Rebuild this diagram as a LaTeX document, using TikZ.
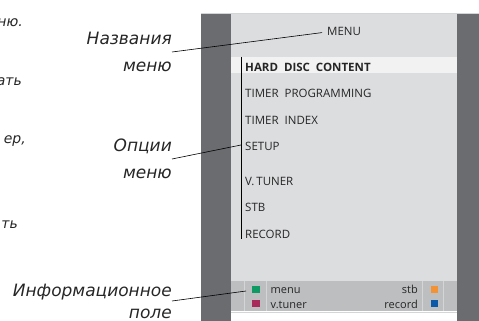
\documentclass[tikz,border=0pt]{standalone}
\usepackage{fontspec}
\setmainfont{Open Sans}
\newfontfamily\capfont{DejaVu Sans}
\usepackage{xcolor}
\definecolor{tvdark}{HTML}{6B6C70}
\definecolor{tvpanel}{HTML}{DCDDDF}
\definecolor{tvhigh}{HTML}{F2F2F2}
\definecolor{tvbar}{HTML}{BDBEC0}
\definecolor{tvsep}{HTML}{D4D5D7}
\definecolor{tvtext}{HTML}{262626}
\definecolor{keygreen}{HTML}{0E9A62}
\definecolor{keyred}{HTML}{A82A5A}
\definecolor{keyyellow}{HTML}{F39234}
\definecolor{keyblue}{HTML}{0B57A8}
\tikzstyle{caption}=[inner sep=0pt,anchor=east,align=right,font=\capfont\fontsize{17}{27}\selectfont\itshape,text=tvtext]
\tikzstyle{stub}=[inner sep=0pt,anchor=base east,font=\capfont\fontsize{14}{15}\selectfont\itshape,text=tvtext]
\tikzstyle{entry}=[inner sep=0pt,anchor=base west,font=\fontsize{11.5}{12}\selectfont,text=tvtext]
\tikzstyle{keytext}=[entry,font=\fontsize{11}{12}\selectfont]
\tikzstyle{key}=[minimum size=7.5pt,inner sep=0pt]
\tikzstyle{leader}=[draw=black,line width=0.6pt]

\begin{document}
\begin{tikzpicture}[x=1pt,y=-1pt]
\useasboundingbox (0,0) rectangle (479,321);
% tv screen
\fill[tvdark] (201,13) rectangle (231,321);
\fill[tvdark] (457,13) rectangle (479,321);
\fill[tvpanel] (231,13) rectangle (457,311);
\draw[tvsep,line width=0.8pt] (201,13.4) -- (479,13.4);
\draw[tvsep] (231,312.5) -- (457,312.5);
\fill[tvhigh] (231,57) rectangle (457,73);
% info bar
\fill[tvbar] (231,281) rectangle (457,311);
\foreach \xpos in {244,266,422,443}
  \draw[tvsep,line width=1pt] (\xpos,281) -- (\xpos,311);

% menu
\node[entry] (title) at (327,36) {MENU};
\node[entry,font=\bfseries\fontsize{11.5}{12}\selectfont] (hdc) at (245,71) {HARD\ \ DISC\ \ CONTENT};
\foreach \ypos/\name/\txt in {97/prog/{TIMER\ \ PROGRAMMING}, 124/index/{TIMER\ \ INDEX},
    150/setup/SETUP, 185/vtuner/{V.\,TUNER}, 211/stb/STB, 238/record/RECORD}
  \node[entry] (\name) at (245,\ypos) {\txt};
\coordinate (brtop) at (241,57);
\coordinate (brbot) at (241,239);
\coordinate (brmid) at (241,145);
\draw[leader] (brtop) -- (brbot);

% colour keys
\foreach \place/\name/\col in {{(256,289.5)/kgreen/keygreen}, {(256,303.5)/kred/keyred},
    {(434.5,289.5)/kyellow/keyyellow}, {(434.5,303.5)/kblue/keyblue}}
  \node[key,fill=\col] (\name) at \place {};
\node[keytext] (lmenu) at (270.5,293) {menu};
\node[keytext] (lvtuner) at (270.5,308) {v.tuner};
\node[keytext,anchor=base east] (lstb) at (418,293) {stb};
\node[keytext,anchor=base east] (lrecord) at (418,308) {record};

% captions
\node[caption] (capnames) at (172,52) {Названия\\меню};
\node[caption] (capopts) at (172,159) {Опции\\меню};
\node[caption] (capinfo) at (172,301) {Информационное\\[-5pt]поле};
\coordinate (infoend) at (246,291);
\draw[leader,shorten >=5pt] (capnames.east) -- (title.west);
\draw[leader] (capopts.east) -- (brmid);
\draw[leader] (capinfo.east) -- (infoend);

% text running in from the left page
\node[stub] (s1) at (23,27) {ню.};
\node[stub] (s2) at (22,85) {ать};
\node[stub] (s3) at (26,143) {ер,};
\node[stub] (s4) at (18,228) {ть};
\end{tikzpicture}
\end{document}
